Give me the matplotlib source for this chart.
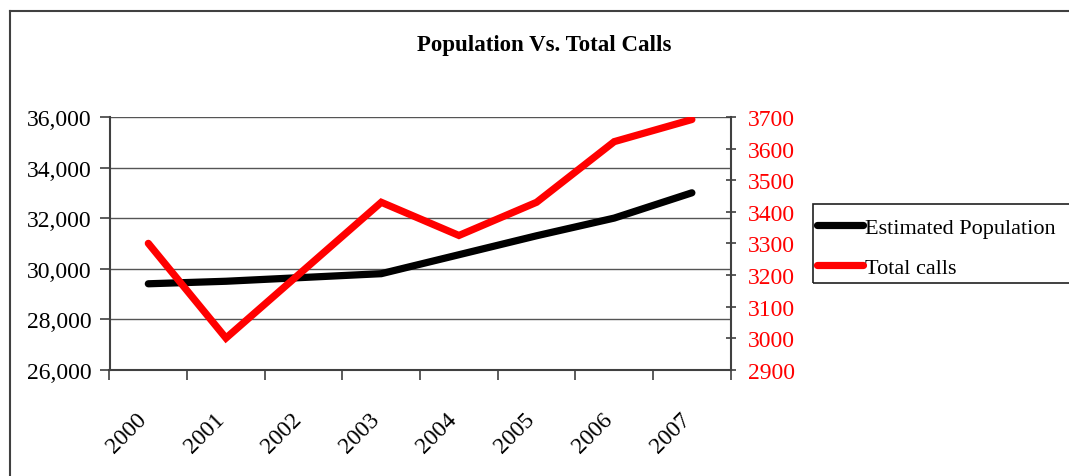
import numpy as np
import matplotlib
matplotlib.use("Agg")
import matplotlib.pyplot as plt
import matplotlib.ticker as ticker
import matplotlib.transforms as mtransforms
from matplotlib.lines import Line2D
from matplotlib.patches import Rectangle

# ======================================
# DATA
# ======================================
years = ["2000", "2001", "2002", "2003", "2004", "2005", "2006", "2007"]
population = [29400, 29500, 29650, 29800, 30550, 31300, 32000, 33000]
total_calls = [3300, 3000, 3215, 3430, 3325, 3430, 3622, 3692]

plt.rcParams['font.family'] = ['Liberation Serif', 'DejaVu Serif']
FS = 17

W, H = 1069, 477
fig = plt.figure(figsize=(W / 100, H / 100), dpi=100)

# pixel -> figure fraction helpers
def fx(px):
    return px / W

def fy(py):
    return 1 - py / H

# outer chart border (cut off at the right and bottom edges)
fig.add_artist(Line2D([fx(10), fx(10)], [fy(12), 0], color='#404040', lw=1.5))
fig.add_artist(Line2D([fx(10), 1], [fy(12), fy(12)], color='#404040', lw=1.5))

ax = fig.add_axes([fx(109.5), fy(370.7), fx(730.7) - fx(109.5), fy(118) - fy(370.7)])
x = np.arange(len(years))

line_pop, = ax.plot(x, population, color='black', lw=5.2, solid_capstyle='round',
                    solid_joinstyle='miter', label='Estimated Population', zorder=3)
ax.set_xlim(-0.5, len(years) - 0.5)
ax.set_ylim(26000, 36000)
ax.yaxis.set_major_locator(ticker.MultipleLocator(2000))
ax.yaxis.set_major_formatter(ticker.FuncFormatter(lambda v, _: f"{int(v):,}"))
ax.grid(axis='y', color='#555555', lw=1.0)
ax.set_axisbelow(True)

# category labels at centres, tick marks at boundaries
ax.set_xticks(x)
ax.set_xticklabels(years, rotation=45, ha='right', va='center', rotation_mode='anchor')
ax.set_xticks(np.arange(-0.5, len(years)), minor=True)
ax.tick_params(axis='x', which='major', length=0, pad=33, labelsize=FS)
ax.tick_params(axis='x', which='minor', length=7, width=1.2, color='#404040', direction='out')
ax.tick_params(axis='y', length=7, width=1.2, color='#404040', direction='out', pad=6, labelsize=FS)
shift = mtransforms.ScaledTranslation(-5 / 100, 0, fig.dpi_scale_trans)
for lab in ax.get_xticklabels():
    lab.set_transform(lab.get_transform() + shift)

for side in ['top', 'right']:
    ax.spines[side].set_visible(False)
for side in ['left', 'bottom']:
    ax.spines[side].set_color('#404040')
    ax.spines[side].set_linewidth(1.5)

# ======================================
# SECOND Y-AXIS FOR TOTAL CALLS
# ======================================
ax2 = ax.twinx()
line_calls, = ax2.plot(x, total_calls, color='#ff0000', lw=5.2, solid_capstyle='round',
                       solid_joinstyle='miter', label='Total calls')
ax2.set_ylim(2900, 3700)
ax2.yaxis.set_major_locator(ticker.MultipleLocator(100))
ax2.tick_params(axis='y', length=7, width=1.2, color='#404040', direction='inout',
                pad=9, labelsize=FS, labelcolor='#ff0000')
for side in ['top', 'left', 'bottom']:
    ax2.spines[side].set_visible(False)
ax2.spines['right'].set_color('#404040')
ax2.spines['right'].set_linewidth(1.5)

# ======================================
# TITLE AND LEGEND
# ======================================
fig.text(fx(544), fy(45), 'Population Vs. Total Calls', ha='center', va='center',
         fontsize=16.5, fontweight='bold')

fig.add_artist(Rectangle((fx(813), fy(284)), 1.0 - fx(813) + 0.01, fy(205.3) - fy(284),
                         fill=False, edgecolor='#202020', lw=1.2, transform=fig.transFigure))
fig.legend([line_pop, line_calls], ['Estimated Population', 'Total calls'],
           loc='center left', bbox_to_anchor=(fx(813), fy(248.5)), borderaxespad=0,
           borderpad=0.2, frameon=False, fontsize=16, handlelength=2.05,
           handletextpad=0.1, labelspacing=0.85)

fig.savefig('out.png', dpi=100)
